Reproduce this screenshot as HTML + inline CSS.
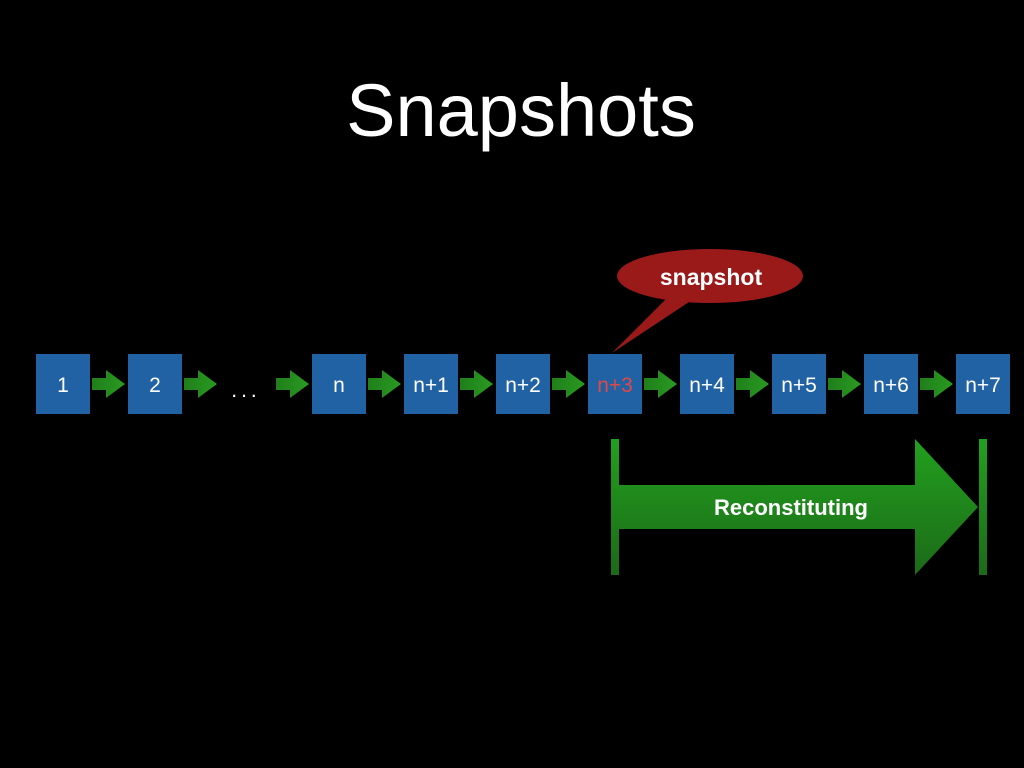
<!DOCTYPE html>
<html><head><style>
html,body{margin:0;padding:0;background:#000;}
body{width:1024px;height:768px;position:relative;overflow:hidden;font-family:"Liberation Sans",sans-serif;}
</style></head><body>
<svg width="1024" height="768" viewBox="0 0 1024 768" xmlns="http://www.w3.org/2000/svg" style="position:absolute;left:0;top:0">
<defs>
<linearGradient id="g" x1="0" y1="0" x2="0" y2="1">
<stop offset="0" stop-color="#22a01e"/><stop offset="1" stop-color="#1c6a18"/>
</linearGradient>
<linearGradient id="ga" x1="0" y1="0" x2="1" y2="0">
<stop offset="0" stop-color="#1f7f1a"/><stop offset="1" stop-color="#2a9a22"/>
</linearGradient>
<g id="arr"><polygon points="0,-6 14,-6 14,-14 33,0 14,14 14,6 0,6" fill="url(#ga)"/></g>
</defs>
<text x="521" y="136" font-size="74" fill="#fff" text-anchor="middle" font-family="Liberation Sans, sans-serif">Snapshots</text>

<ellipse cx="710" cy="276" rx="93" ry="27" fill="#9a1a1a"/>
<polygon points="612,353 667,298 692,300" fill="#9a1a1a"/>
<text x="711" y="285" font-size="23" font-weight="bold" fill="#fff" text-anchor="middle">snapshot</text>

<g font-size="21" fill="#fff" text-anchor="middle">
<rect x="36" y="354" width="54" height="60" fill="#2162a5"/><text x="63" y="392">1</text>
<rect x="128" y="354" width="54" height="60" fill="#2162a5"/><text x="155" y="392">2</text>
<text x="246" y="397" letter-spacing="4">...</text>
<rect x="312" y="354" width="54" height="60" fill="#2162a5"/><text x="339" y="392">n</text>
<rect x="404" y="354" width="54" height="60" fill="#2162a5"/><text x="431" y="392">n+1</text>
<rect x="496" y="354" width="54" height="60" fill="#2162a5"/><text x="523" y="392">n+2</text>
<rect x="588" y="354" width="54" height="60" fill="#2162a5"/><text x="615" y="392" fill="#e04848">n+3</text>
<rect x="680" y="354" width="54" height="60" fill="#2162a5"/><text x="707" y="392">n+4</text>
<rect x="772" y="354" width="54" height="60" fill="#2162a5"/><text x="799" y="392">n+5</text>
<rect x="864" y="354" width="54" height="60" fill="#2162a5"/><text x="891" y="392">n+6</text>
<rect x="956" y="354" width="54" height="60" fill="#2162a5"/><text x="983" y="392">n+7</text>
</g>
<use href="#arr" x="92" y="384"/>
<use href="#arr" x="184" y="384"/>
<use href="#arr" x="276" y="384"/>
<use href="#arr" x="368" y="384"/>
<use href="#arr" x="460" y="384"/>
<use href="#arr" x="552" y="384"/>
<use href="#arr" x="644" y="384"/>
<use href="#arr" x="736" y="384"/>
<use href="#arr" x="828" y="384"/>
<use href="#arr" x="920" y="384"/>

<rect x="611" y="439" width="8" height="136" fill="url(#g)"/>
<rect x="979" y="439" width="8" height="136" fill="url(#g)"/>
<polygon points="619,485 915,485 915,439 978,507 915,575 915,529 619,529" fill="url(#g)"/>
<text x="791" y="515" font-size="22" font-weight="bold" fill="#fff" text-anchor="middle">Reconstituting</text>
</svg>
</body></html>
